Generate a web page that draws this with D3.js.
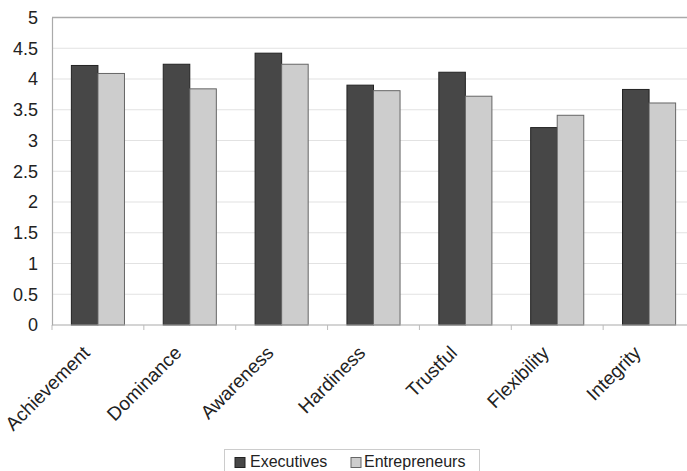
<!DOCTYPE html>
<html><head><meta charset="utf-8">
<script src="https://cdn.jsdelivr.net/npm/d3@7"></script>
<style>body{margin:0;background:#fff}svg{display:block}text{font-family:"Liberation Sans",Arial,sans-serif;fill:#222}</style>
</head><body>
<script>
const categories = ["Achievement","Dominance","Awareness","Hardiness","Trustful","Flexibility","Integrity"];
const seriesNames = ["Executives","Entrepreneurs"];
const executives = [4.22,4.24,4.42,3.90,4.11,3.21,3.83];
const entrepreneurs = [4.09,3.84,4.24,3.81,3.72,3.41,3.61];
const yTicks = [0,0.5,1,1.5,2,2.5,3,3.5,4,4.5,5];
const colors = ["#474747","#cdcdcd"];
const strokes = ["#222","#666"];

const W=687,H=471;
const svg=d3.select("body").append("svg").attr("width",W).attr("height",H);
const x=d3.scaleBand().domain(categories).range([52,695]).padding(0);
const xs=d3.scaleBand().domain(seriesNames).range([0,x.bandwidth()]).paddingInner(0).paddingOuter(0.73);
const y=d3.scaleLinear().domain([0,5]).range([325,17.5]);

// grid
svg.append("g").selectAll("line").data(yTicks.filter(d=>d>0&&d<5)).join("line")
  .attr("x1",52).attr("x2",695).attr("y1",d=>y(d)).attr("y2",d=>y(d))
  .attr("stroke","#e2e2e2").attr("stroke-width",1.2);
svg.append("line").attr("x1",52).attr("x2",695).attr("y1",y(5)).attr("y2",y(5)).attr("stroke","#aaa").attr("stroke-width",1.5);

// y axis
const ya=svg.append("g").attr("transform","translate(52,0)").call(d3.axisLeft(y).tickValues(yTicks).tickSize(0).tickPadding(14).tickFormat(d3.format("")));
ya.select(".domain").attr("stroke","#aaa").attr("stroke-width",1.2);
ya.selectAll("text").attr("font-size",18).attr("fill","#222").attr("font-family","Liberation Sans, Arial, sans-serif");

// bars
const series=[executives,entrepreneurs];
seriesNames.forEach((s,si)=>{
  svg.append("g").selectAll("rect").data(categories).join("rect")
    .attr("x",c=>x(c)+xs(s)).attr("width",xs.bandwidth())
    .attr("y",(c,i)=>y(series[si][i])).attr("height",(c,i)=>y(0)-y(series[si][i]))
    .attr("fill",colors[si]).attr("stroke",strokes[si]).attr("stroke-width",1);
});

// x axis
const xa=svg.append("g").attr("transform","translate(0,325)");
xa.append("line").attr("x1",52).attr("x2",695).attr("stroke","#aaa").attr("stroke-width",1.2);
xa.selectAll("line.t").data(categories).join("line").attr("class","t")
  .attr("x1",c=>x(c)).attr("x2",c=>x(c)).attr("y1",0).attr("y2",5).attr("stroke","#bbb");
xa.selectAll("text").data(categories).join("text")
  .attr("transform",c=>`translate(${x(c)+x.bandwidth()/2-7},29) rotate(-45)`)
  .attr("text-anchor","end").attr("font-size",19).text(c=>c);

// legend
const lg=svg.append("g");
lg.append("rect").attr("x",224.5).attr("y",449.5).attr("width",255).attr("height",30).attr("fill","#fff").attr("stroke","#ccc");
const lx=[235,351], tx=[250,364];
seriesNames.forEach((s,i)=>{
  lg.append("rect").attr("x",lx[i]).attr("y",457.5).attr("width",10).attr("height",10).attr("fill",colors[i]).attr("stroke",strokes[i]);
  lg.append("text").attr("x",tx[i]).attr("y",467).attr("font-size",16).text(s);
});
</script>
</body></html>
